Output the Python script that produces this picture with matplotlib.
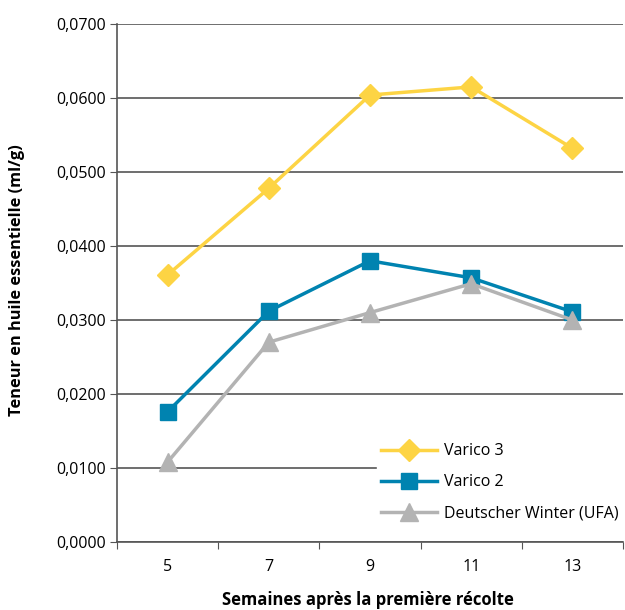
import numpy as np
import matplotlib
matplotlib.use("Agg")
import matplotlib.pyplot as plt

# données
semaines = ["5", "7", "9", "11", "13"]
varico3 = [0.0361, 0.0478, 0.0604, 0.0615, 0.0532]
varico2 = [0.0176, 0.0312, 0.0380, 0.0357, 0.0311]
deutscher = [0.0108, 0.0270, 0.0310, 0.0349, 0.0300]
noms = ["Varico 3", "Varico 2", "Deutscher Winter (UFA)"]

plt.rcParams['font.family'] = ['Open Sans', 'DejaVu Sans']

fig = plt.figure(figsize=(6.25, 6.1), dpi=100)
ax = fig.add_axes([117/625, 1 - 542/610, (623-117)/625, (542-24)/610])

x = np.arange(len(semaines))
ax.plot(x, varico3, color='#FDD444', lw=2.5, marker='D', ms=11, label=noms[0], zorder=3)
ax.plot(x, varico2, color='#0083B0', lw=2.5, marker='s', ms=12, label=noms[1], zorder=3)
ax.plot(x, deutscher, color='#B3B3B3', lw=2.5, marker='^', ms=13, label=noms[2], zorder=3)

ax.set_xlim(-0.5, len(semaines) - 0.5)
ax.set_ylim(0, 0.07)
ax.set_yticks(np.arange(0, 0.0701, 0.01))
ax.set_yticklabels([f"{v:.4f}".replace('.', ',') for v in np.arange(0, 0.0701, 0.01)])
ax.set_xticks(np.arange(-0.5, len(semaines)))
ax.set_xticklabels([])
ax.set_xticks(x, minor=True)
ax.set_xticklabels(semaines, minor=True)
ax.tick_params(axis='x', which='minor', length=0, pad=12, labelsize=11.5)
ax.tick_params(axis='x', which='major', length=5, color='#555555', direction='out')
ax.tick_params(axis='y', length=5, color='#555555', labelsize=11.5, pad=3)
ax.grid(axis='y', color='#555555', lw=1.2, zorder=0)
ax.set_axisbelow(True)

for s in ['top', 'right']:
    ax.spines[s].set_visible(False)
for s in ['left', 'bottom']:
    ax.spines[s].set_color('#555555')
    ax.spines[s].set_linewidth(1.2)

ax.set_ylabel("Teneur en huile essentielle (ml/g)", fontweight='bold', fontsize=11.8, va='center')
ax.yaxis.set_label_coords(-0.198, 0.506)
ax.set_xlabel("Semaines après la première récolte", fontweight='bold', fontsize=12, va='center')
ax.xaxis.set_label_coords(0.496, -0.112)

leg = ax.legend(loc='lower right', bbox_to_anchor=(1.0, 0.03), frameon=True, fancybox=False,
                edgecolor='white', framealpha=1, fontsize=11.5, handlelength=3.5,
                borderaxespad=0, labelspacing=0.95, handletextpad=0.4, borderpad=0.3)

fig.savefig("out.png", dpi=100)
